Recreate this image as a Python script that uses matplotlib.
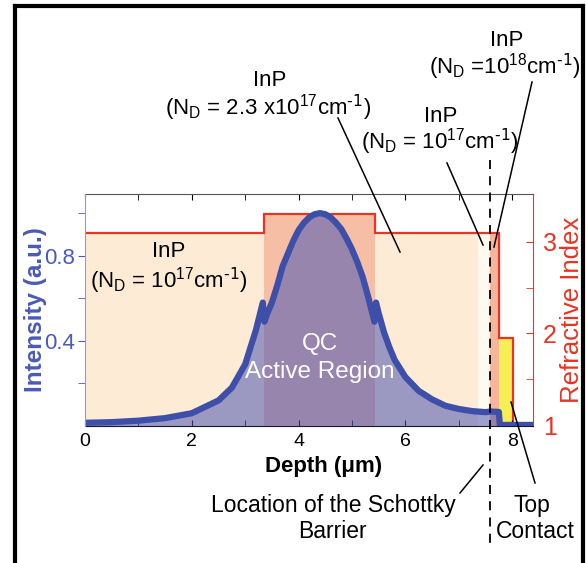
import matplotlib
matplotlib.use("Agg")
import matplotlib.pyplot as plt
from matplotlib.lines import Line2D
from matplotlib.transforms import blended_transform_factory

plt.rcParams['font.family'] = ['Liberation Sans', 'DejaVu Sans']
plt.rcParams['mathtext.default'] = 'regular'

# layers of the structure (depth in um)
layer_edges = [0, 3.35, 5.43, 7.36, 7.58, 7.75, 8.02, 8.39]
layer_n = [3.09, 3.30, 3.09, 3.09, 3.09, 1.95, 1.0]
layer_colors = ['#fdebd5', '#f7bea6', '#fdebd5', '#fffaf0', '#f7b59c', '#f5ef55', 'white']

# mode intensity profile
depth = [0, 0.5, 1.0, 1.5, 2.0, 2.5, 2.75, 3.0, 3.2, 3.33,
         3.36, 3.4, 3.5, 3.6, 3.7, 3.8, 3.9, 4.0, 4.1, 4.2, 4.3, 4.4,
         4.5, 4.6, 4.7, 4.8, 4.9, 5.0, 5.1, 5.2, 5.3, 5.42,
         5.45, 5.5, 5.6, 5.7, 5.8, 5.9, 6.0, 6.25, 6.5, 6.75, 7.0,
         7.25, 7.5, 7.6, 7.75, 7.77, 8.39]
intensity = [0.015, 0.018, 0.025, 0.037, 0.06, 0.12, 0.18, 0.29, 0.45, 0.58,
             0.49, 0.52, 0.58, 0.66, 0.75, 0.81, 0.87, 0.92, 0.955, 0.98, 0.995, 1.0,
             0.995, 0.98, 0.955, 0.925, 0.88, 0.83, 0.77, 0.70, 0.61, 0.49,
             0.58, 0.53, 0.44, 0.37, 0.31, 0.27, 0.23, 0.165, 0.125, 0.095, 0.08,
             0.07, 0.065, 0.068, 0.066, 0.005, 0.005]

W, H = 586, 563
fig = plt.figure(figsize=(W / 100, H / 100), dpi=100)

def fx(px):
    return px / W

def fy(py):
    return 1 - py / H

# refractive index axis (drawn first, underneath), intensity on a twin on top
axn = fig.add_axes([fx(85), fy(426), fx(533) - fx(85), fy(194) - fy(426)])
axi = axn.twinx()

for i in range(len(layer_n)):
    axn.fill_between(layer_edges[i:i + 2], 0.99, layer_n[i], color=layer_colors[i], lw=0)
axn.stairs(layer_n, layer_edges, baseline=None, color='#ea3322', lw=1.6)
axn.set_xlim(0, 8.39)
axn.set_ylim(0.99, 3.52)
axn.yaxis.tick_right()
axn.yaxis.set_label_position('right')
axn.set_yticks([1, 2, 3])
axn.set_yticks([1.5, 2.5], minor=True)
axn.tick_params(axis='y', which='both', direction='in', colors='#ea3322', labelsize=18, length=5, pad=7)
axn.set_ylabel('Refractive Index', color='#ea3322', fontsize=18.5, labelpad=2)
axn.set_xticks([0, 2, 4, 6, 8])
axn.set_xticks([1, 3, 5, 7], minor=True)
axn.tick_params(axis='x', which='both', direction='in', top=True, labelsize=14, length=4, pad=5)
axn.spines['right'].set_color('#ea3322')
axn.spines['top'].set_color('#555555')
axn.spines['left'].set_visible(False)

axi.yaxis.tick_left()
axi.yaxis.set_label_position('left')
axi.fill_between(depth, 0, intensity, color=(75 / 255, 86 / 255, 180 / 255), alpha=0.55, lw=0)
axi.plot(depth, intensity, color='#3d4fa8', lw=4.5, solid_capstyle='butt', solid_joinstyle='round')
axi.set_ylim(0, 1.09)
axi.set_yticks([0.4, 0.8])
axi.set_yticks([0.2, 0.6, 1.0], minor=True)
axi.tick_params(axis='y', which='both', direction='out', colors='#4a5ab8', labelsize=16, length=5, pad=2)
axi.set_ylabel('Intensity (a.u.)', color='#4a5ab8', fontsize=17.5, fontweight='bold', labelpad=-2)
axi.spines['left'].set_color('#8d9bd6')
for s in ['right', 'top', 'bottom']:
    axi.spines[s].set_visible(False)

fig.text(fx(324), fy(472), 'Depth (μm)', fontsize=16, fontweight='bold', ha='center', va='baseline')

# Schottky barrier location
tr = blended_transform_factory(axn.transData, fig.transFigure)
fig.add_artist(Line2D([7.58, 7.58], [fy(160), fy(545)], transform=tr, color='black',
                      lw=1.3, linestyle=(0, (5, 4))))

def label(xc, yb, s, size=16, color='black'):
    fig.text(fx(xc), fy(yb), s, ha='center', va='baseline', fontsize=size, color=color)

def leader(x0, y0, x1, y1):
    fig.add_artist(Line2D([fx(x0), fx(x1)], [fy(y0), fy(y1)], transform=fig.transFigure,
                          color='black', lw=1.1))

nd = r'(N$_D$ {}10$^{{{}}}$cm$^{{\text{{-1}}}}$)'
label(169, 257, 'InP')
label(169, 288, nd.format('= ', 17))
label(270, 86, 'InP')
label(268, 115, nd.format('= 2.3 x', 17))
leader(338, 118, 400, 252)
label(441, 122, 'InP')
label(440, 149, nd.format('= ', 17))
leader(447, 163, 483, 245)
label(507, 46, 'InP')
label(505, 74, nd.format('=', 18))
leader(532, 82, 494, 247)
label(320, 350, 'QC', size=17.5, color='white')
label(320, 378, 'Active Region', size=17.5, color='white')
label(333, 512, 'Location of the Schottky', size=16.5)
label(332, 538, 'Barrier', size=16.5)
leader(460, 493, 483, 465)
label(532, 512, 'Top', size=16.5)
label(535, 538, 'Contact', size=16.5)
leader(511, 402, 535, 483)

# outer frame
for xs, ys in [([15, 15], [563, 6]), ([15, 583], [6, 6]), ([583, 583], [6, 563])]:
    fig.add_artist(Line2D([fx(v) for v in xs], [fy(v) for v in ys], transform=fig.transFigure,
                          color='black', lw=3))

fig.savefig('out.png', dpi=100)
